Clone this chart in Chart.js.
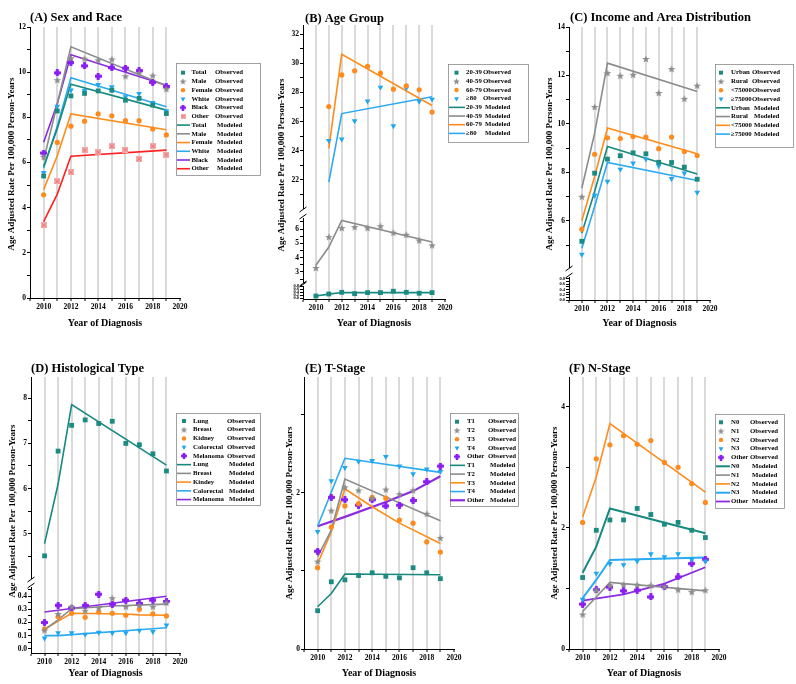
<!DOCTYPE html>
<html><head><meta charset="utf-8">
<script src="https://cdn.jsdelivr.net/npm/chart.js@4.4.1/dist/chart.umd.min.js"></script>
<style>
html,body{margin:0;padding:0;background:#fff;}
#wrap{position:relative;width:796px;height:684px;overflow:hidden;background:#fff;}
canvas{position:absolute;}
</style></head><body><div id="wrap">
<canvas id="cA" style="left:0px;top:0px" width="265" height="330"></canvas>
<canvas id="cB" style="left:265px;top:0px" width="265" height="330"></canvas>
<canvas id="cC" style="left:530px;top:0px" width="266" height="330"></canvas>
<canvas id="cD" style="left:0px;top:330px" width="265" height="354"></canvas>
<canvas id="cE" style="left:265px;top:330px" width="265" height="354"></canvas>
<canvas id="cF" style="left:530px;top:330px" width="266" height="354"></canvas>
</div>
<script>
// ---------------- DATA ----------------
const years = [2010,2011,2012,2013,2014,2015,2016,2017,2018,2019];
const yTitle = 'Age Adjusted Rate Per 100,000 Person-Years';
const xTitle = 'Year of Diagnosis';

// (A) Sex and Race
const aNames = ['Total','Male','Female','White','Black','Other'];
const aTotalObs  = [5.40,8.28,8.95,9.06,9.17,9.20,8.76,8.84,8.54,8.17];
const aMaleObs   = [6.25,9.65,10.62,10.60,10.53,10.57,9.82,9.95,9.85,9.25];
const aFemaleObs = [4.57,6.89,7.61,7.83,8.15,8.07,7.85,7.85,7.48,7.22];
const aWhiteObs  = [5.55,8.48,9.20,9.18,9.45,9.35,8.90,9.05,8.65,8.28];
const aBlackObs  = [6.42,9.97,10.43,10.28,9.82,10.20,10.18,10.07,9.55,9.37];
const aOtherObs  = [3.22,5.16,5.56,6.54,6.45,6.72,6.57,6.15,6.72,6.35];
const aModYears  = [2010,2011,2012,2019];
const aTotalMod  = [5.82,7.50,9.47,8.32];
const aMaleMod   = [6.10,8.60,11.12,9.40];
const aFemaleMod = [4.80,6.30,8.15,7.45];
const aWhiteMod  = [5.75,7.60,9.75,8.47];
const aBlackMod  = [6.90,8.60,10.77,9.42];
const aOtherMod  = [3.38,4.60,6.28,6.55];

// (B) Age Group
const bNames = ['20-39','40-59','60-79','\u226580'];
const bOldYears = [2011,2012,2013,2014,2015,2016,2017,2018,2019];
const b2039Obs = [0.15,0.28,0.39,0.30,0.37,0.37,0.46,0.39,0.33,0.37];
const b4059Obs = [3.28,5.44,6.07,6.14,6.07,6.20,5.74,5.60,5.20,4.86];
const b6079Obs = [27.03,29.20,29.48,29.78,29.32,28.22,28.45,28.18,26.65];
const b80Obs   = [24.70,24.80,26.05,27.40,28.35,25.70,28.30,27.38,27.53];
const bModYears = [2010,2011,2012,2019];
const b2039Mod = [0.15,0.27,0.38,0.37];
const b4059Mod = [3.47,4.74,6.60,5.09];
const bOldModYears = [2011,2012,2019];
const b6079Mod = [24.17,30.62,27.10];
const b80Mod   = [21.85,26.55,27.70];

// (C) Income and Area Distribution
const cNames = ['Urban','Rural','<75000','\u226575000'];
const cUrbanObs = [5.16,7.97,8.55,8.69,8.81,8.77,8.42,8.41,8.22,7.72];
const cRuralObs = [7.00,10.70,12.10,11.99,12.03,12.68,11.28,12.27,11.04,11.58];
const cLowObs   = [5.66,8.75,9.43,9.40,9.48,9.46,8.98,9.46,8.86,8.70];
const cHighObs  = [4.62,7.05,7.63,8.13,8.38,8.55,8.27,7.74,7.97,7.18];
const cModYears = [2010,2011,2012,2019];
const cUrbanMod = [5.49,7.21,9.07,7.94];
const cRuralMod = [7.35,9.62,12.51,11.34];
const cLowMod   = [6.01,7.83,9.83,8.77];
const cHighMod  = [4.87,6.60,8.41,7.67];

// (D) Histological Type
const dObsNames = ['Lung','Breast','Kidney','Colorectal','Melanoma'];
const dModNames = ['Lung','Breast','Kindey','Colorectal','Melanoma'];
const dLungObs   = [4.51,6.83,7.40,7.52,7.44,7.49,7.00,6.97,6.77,6.39];
const dBreastObs = [0.14,0.265,0.32,0.29,0.31,0.385,0.32,0.33,0.32,0.35];
const dKidneyObs = [0.15,0.245,0.27,0.24,0.28,0.27,0.255,0.30,0.265,0.25];
const dColoObs   = [0.08,0.12,0.12,0.11,0.125,0.12,0.12,0.14,0.13,0.18];
const dMelObs    = [0.20,0.33,0.31,0.33,0.415,0.34,0.37,0.345,0.37,0.36];
const dLungModYears = [2010,2011,2012,2019];
const dLungMod      = [4.78,6.10,7.86,6.52];
const dBreastModYears = [2010,2011,2012,2015,2019];
const dBreastMod      = [0.145,0.22,0.305,0.325,0.34];
const dKidneyModYears = [2010,2012,2016,2017,2019];
const dKidneyMod      = [0.15,0.27,0.265,0.258,0.255];
const dColoModYears = [2010,2011,2019];
const dColoMod      = [0.10,0.10,0.16];
const dMelModYears = [2010,2019];
const dMelMod      = [0.28,0.40];

// (E) T-Stage
const eNames = ['T1','T2','T3','T4','Other'];
const eT1Obs = [0.49,0.86,0.885,0.94,0.975,0.93,0.91,1.04,0.975,0.90];
const eT2Obs = [1.12,1.77,2.07,2.03,1.93,2.04,1.98,2.03,1.73,1.42];
const eT3Obs = [1.04,1.56,1.83,1.86,1.94,1.93,1.65,1.61,1.37,1.24];
const eT4Obs = [1.50,2.15,2.32,2.40,2.41,2.46,2.34,2.24,2.30,2.27];
const eOtherObs = [1.25,1.94,1.91,1.84,1.91,1.83,1.84,1.90,2.14,2.34];
const eT1ModYears = [2010,2011,2012,2019];
const eT1Mod = [0.54,0.71,0.96,0.95];
const eT2Mod = [1.18,1.52,2.175,1.64];
const eT3ModYears = [2010,2011,2012,2014,2016,2019];
const eT3Mod = [1.09,1.50,2.05,1.82,1.61,1.35];
const eT4ModYears = [2010,2012,2019];
const eT4Mod = [1.57,2.44,2.26];
const eOtherModYears = [2010,2012,2015,2017,2019];
const eOtherMod = [1.57,1.69,1.88,2.02,2.21];

// (F) N-Stage
const fNames = ['N0','N1','N2','N3','Other'];
const fN0Obs = [1.18,1.96,2.13,2.13,2.32,2.22,2.06,2.09,1.96,1.84];
const fN1Obs = [0.57,0.97,1.05,1.06,1.06,1.05,1.03,0.98,0.94,0.97];
const fN2Obs = [2.09,3.14,3.37,3.52,3.38,3.44,3.08,3.00,2.73,2.42];
const fN3Obs = [0.82,1.25,1.41,1.39,1.45,1.57,1.52,1.57,1.48,1.45];
const fOtherObs = [0.74,0.98,1.02,0.96,0.97,0.86,1.03,1.19,1.41,1.48];
const fModYears = [2010,2011,2012,2019];
const fN0Mod = [1.26,1.69,2.32,1.91];
const fN1ModYears = [2010,2012,2019];
const fN1Mod = [0.62,1.10,0.96];
const fN2Mod = [2.18,2.84,3.72,2.59];
const fN3Mod = [0.84,1.14,1.47,1.51];
const fOtherModYears = [2010,2013,2016,2019];
const fOtherMod = [0.80,0.90,1.08,1.35];

// ---------------- STYLE ----------------
const FONT = "'Liberation Serif','Times New Roman',serif";
Chart.defaults.font.family = FONT;
Chart.defaults.font.weight = 'bold';
Chart.defaults.color = '#000';
Chart.defaults.animation = false;

function mkCanvas(size, draw){ const c=document.createElement('canvas'); c.width=c.height=size; draw(c.getContext('2d'), size); return c; }
function starImg(color,size){ return mkCanvas(size,(g,s)=>{ g.fillStyle=color; g.beginPath(); const r=s/2, ri=r*0.42; for(let k=0;k<10;k++){ const a=-Math.PI/2+k*Math.PI/5; const rr=k%2?ri:r; g.lineTo(r+rr*Math.cos(a), r+0.3+rr*Math.sin(a)); } g.closePath(); g.fill(); }); }
function plusImg(color,size){ return mkCanvas(size,(g,s)=>{ g.fillStyle=color; const r=s/2; g.beginPath(); g.arc(r,r,r*0.72,0,Math.PI*2); g.fill(); g.fillRect(0,r-r*0.4,s,r*0.8); g.fillRect(r-r*0.4,0,r*0.8,s); }); }
function xsqImg(size){ return mkCanvas(size,(g,s)=>{ g.fillStyle='#f5a9a9'; g.fillRect(0,0,s,s); g.strokeStyle='#e57373'; g.lineWidth=0.9; g.beginPath(); g.moveTo(1,1); g.lineTo(s-1,s-1); g.moveTo(s-1,1); g.lineTo(1,s-1); g.stroke(); }); }

const ST = {
  teal:  {c:'#1b8a80', lc:'#17897f', ps:'rect', r:3.4, lps:'rect', lr:2.8},
  gray:  {c:'#8c8c8c', lc:'#8c8c8c', ps:starImg('#8c8c8c',8), r:3.4, lps:starImg('#8c8c8c',7), lr:3},
  orange:{c:'#ff8a1e', lc:'#ff8c1a', ps:'circle', r:2.6, lps:'circle', lr:2.2},
  blue:  {c:'#1ea6ef', lc:'#2aaaf2', ps:'triangle', r:3.3, rot:180, lps:'triangle', lr:2.8},
  purple:{c:'#8a1ef2', lc:'#8a2be2', ps:plusImg('#8a1ef2',7), r:3.4, lps:plusImg('#8a1ef2',6), lr:3},
  pink:  {c:'#f5a9a9', lc:'#ff2020', ps:xsqImg(6), r:3.4, lps:xsqImg(5), lr:3}
};

function obsDS(label, ys, st, axis, xs){
  return {kind:'obs', label, data:(xs||years).map((x,i)=>({x, y:ys[i]})), showLine:false,
    pointStyle:st.ps, pointRadius:st.r, pointHoverRadius:st.r, pointRotation:st.rot||0,
    pointBackgroundColor:st.c, pointBorderColor:st.c, pointBorderWidth:0, yAxisID:axis,
    legendStyle:st.lps, legendRadius:st.lr};
}
function modDS(label, xs, ys, st, axis, bw){
  return {kind:'mod', label, data:xs.map((x,i)=>({x, y:ys[i]})), showLine:true,
    borderColor:st.lc, backgroundColor:st.lc, borderWidth:bw||1.6, pointRadius:0, pointHoverRadius:0, tension:0, yAxisID:axis};
}

function isMajor(v,m){ const q=v/m; return Math.abs(q-Math.round(q))<1e-6; }
function xScale(h, pb){
  return {type:'linear', position:'bottom', min:2009, max:2020,
    afterFit:s=>{ s.height=h; },
    ticks:{stepSize:1, autoSkip:false, maxRotation:0, includeBounds:false, font:{size:7.5}, padding:2,
      callback:v=> isMajor(v,2) ? String(v) : ''},
    grid:{color:c=> (c.tick && c.tick.value>=2010 && c.tick.value<=2019) ? '#dadada' : 'rgba(0,0,0,0)',
      lineWidth:2, drawTicks:true, tickLength:3, tickColor:'#000', tickWidth:1},
    border:{display:true, color:'#000', width:1},
    title:{display:true, text:xTitle, font:{size:10}, padding:{top:0,bottom:pb}}};
}
function yScale(o){
  return {type:'linear', position:'left', stack:'s', stackWeight:o.w||1, min:o.min, max:o.max,
    afterFit:s=>{ s.width=o.width; },
    ticks:{stepSize:o.step, autoSkip:false, includeBounds:false, font:{size:o.fs||7.5}, padding:1,
      callback:v=> isMajor(v,o.major) ? v.toFixed(o.dec||0) : ''},
    grid:{drawOnChartArea:false, drawTicks:true, tickLength:3, tickColor:'#000', tickWidth:1, color:'#000'},
    border:{display:true, color:'#000', width:1}};
}
function gapScale(w, width){
  return {type:'linear', position:'left', stack:'s', stackWeight:w, min:0, max:1,
    afterFit:s=>{ s.width=width; }, ticks:{display:false}, grid:{display:false}, border:{display:false}};
}

function drawBreak(ctx,x,y){ ctx.beginPath(); ctx.moveTo(x-3.5,y+2.5); ctx.lineTo(x+3.5,y-2.5); ctx.stroke(); }

function panelPlugin(cfg){
  return {id:'panel', afterDraw(chart){
    const ctx=chart.ctx; ctx.save();
    ctx.fillStyle='#000'; ctx.textBaseline='middle'; ctx.textAlign='left';
    ctx.font='bold 12.5px '+FONT; ctx.fillText(cfg.title, cfg.tx, cfg.ty);
    ctx.save(); ctx.translate(cfg.yx, cfg.yy); ctx.rotate(-Math.PI/2); ctx.textAlign='center';
    ctx.font='bold 9px '+FONT; ctx.fillText(yTitle,0,0); ctx.restore();
    ctx.strokeStyle='#000'; ctx.lineWidth=1;
    for(const id in chart.scales){ if(id.indexOf('gap')===0){ const s=chart.scales[id]; const x=chart.chartArea.left; drawBreak(ctx,x,s.top+1.5); drawBreak(ctx,x,s.bottom-1.5); } }
    const L=cfg.legend;
    ctx.strokeStyle='#8a8a8a'; ctx.lineWidth=0.8; ctx.strokeRect(L.x+0.5,L.y+0.5,L.w,L.h);
    ctx.font='bold 6.8px '+FONT;
    chart.data.datasets.forEach((ds,i)=>{
      const y=L.y0+i*L.dy;
      if(ds.kind==='obs'){
        ctx.fillStyle=ds.pointBackgroundColor; ctx.strokeStyle=ds.pointBorderColor;
        if(Chart.helpers && Chart.helpers.drawPoint){
          Chart.helpers.drawPoint(ctx,{pointStyle:ds.legendStyle, radius:ds.legendRadius, rotation:ds.pointRotation||0, borderWidth:0}, L.x+L.mx, y);
        } else { ctx.beginPath(); ctx.arc(L.x+L.mx,y,2.5,0,Math.PI*2); ctx.fill(); }
      } else {
        ctx.strokeStyle=ds.borderColor; ctx.lineWidth=ds.borderWidth;
        ctx.beginPath(); ctx.moveTo(L.x+L.l0,y); ctx.lineTo(L.x+L.l1,y); ctx.stroke();
      }
      ctx.fillStyle='#000';
      ctx.fillText(ds.label, L.x+L.nx, y);
      ctx.fillText(ds.kind==='obs'?'Observed':'Modeled', L.x+L.cx+(ds.kind==='obs'?0:2), y);
    });
    ctx.restore();
  }};
}

function make(id, scales, datasets, padding, cfg){
  new Chart(document.getElementById(id), {
    type:'scatter',
    data:{datasets},
    options:{responsive:false, maintainAspectRatio:false, animation:false,
      layout:{padding},
      plugins:{legend:{display:false}, tooltip:{enabled:false}},
      scales},
    plugins:[panelPlugin(cfg)]
  });
}

// ---------- (A) ----------
(function(){
  const ax='yA';
  const ds=[
    obsDS(aNames[0],aTotalObs,ST.teal,ax), obsDS(aNames[1],aMaleObs,ST.gray,ax), obsDS(aNames[2],aFemaleObs,ST.orange,ax),
    obsDS(aNames[3],aWhiteObs,ST.blue,ax), obsDS(aNames[4],aBlackObs,ST.purple,ax), obsDS(aNames[5],aOtherObs,ST.pink,ax),
    modDS(aNames[0],aModYears,aTotalMod,ST.teal,ax), modDS(aNames[1],aModYears,aMaleMod,ST.gray,ax), modDS(aNames[2],aModYears,aFemaleMod,ST.orange,ax),
    modDS(aNames[3],aModYears,aWhiteMod,ST.blue,ax), modDS(aNames[4],aModYears,aBlackMod,ST.purple,ax), modDS(aNames[5],aModYears,aOtherMod,ST.pink,ax)
  ];
  make('cA', {x:xScale(32,1), yA:yScale({min:0,max:12,step:1,major:2,width:30})}, ds,
    {left:0,top:27,right:85,bottom:0},
    {title:'(A) Sex and Race', tx:30, ty:18, yx:12, yy:164,
     legend:{x:176,y:63,w:84,h:112,y0:72.7,dy:8.73,mx:7,nx:15.5,cx:39,l0:1,l1:14}});
})();

// ---------- (B) ----------
(function(){
  const ds=[
    obsDS(bNames[0],b2039Obs,ST.teal,'yBb'), obsDS(bNames[1],b4059Obs,ST.gray,'yBm'),
    obsDS(bNames[2],b6079Obs,ST.orange,'yBt',bOldYears), obsDS(bNames[3],b80Obs,ST.blue,'yBt',bOldYears),
    modDS(bNames[0],bModYears,b2039Mod,ST.teal,'yBb'), modDS(bNames[1],bModYears,b4059Mod,ST.gray,'yBm'),
    modDS(bNames[2],bOldModYears,b6079Mod,ST.orange,'yBt'), modDS(bNames[3],bOldModYears,b80Mod,ST.blue,'yBt')
  ];
  make('cB', {
    x:xScale(31,1),
    yBb:yScale({w:13,min:-0.045,max:0.8,step:0.2,major:0.2,dec:1,fs:4.5,width:38}),
    gapB2:gapScale(4,38),
    yBm:yScale({w:64,min:2.30,max:6.77,step:0.5,major:1,width:38}),
    gapB1:gapScale(10,38),
    yBt:yScale({w:183,min:20.08,max:32.62,step:1,major:2,width:38})
  }, ds, {left:0,top:25,right:85,bottom:0},
    {title:'(B) Age Group', tx:40, ty:19, yx:17, yy:165,
     legend:{x:183,y:64,w:80,h:78,y0:72.7,dy:8.67,mx:8.5,nx:18,cx:35,l0:1,l1:17}});
})();

// ---------- (C) ----------
(function(){
  const ax='yCt';
  const ds=[
    obsDS(cNames[0],cUrbanObs,ST.teal,ax), obsDS(cNames[1],cRuralObs,ST.gray,ax),
    obsDS(cNames[2],cLowObs,ST.orange,ax), obsDS(cNames[3],cHighObs,ST.blue,ax),
    modDS(cNames[0],cModYears,cUrbanMod,ST.teal,ax), modDS(cNames[1],cModYears,cRuralMod,ST.gray,ax),
    modDS(cNames[2],cModYears,cLowMod,ST.orange,ax), modDS(cNames[3],cModYears,cHighMod,ST.blue,ax)
  ];
  make('cC', {
    x:xScale(30,1),
    yCb:yScale({w:23,min:0,max:0.876,step:0.1,major:0.2,dec:1,fs:4.5,width:39}),
    gapC1:gapScale(10,39),
    yCt:yScale({w:240,min:4.1,max:14,step:1,major:2,width:39})
  }, ds, {left:0,top:27,right:86,bottom:0},
    {title:'(C) Income and Area Distribution', tx:40, ty:18, yx:20, yy:164,
     legend:{x:185,y:64,w:78,h:83,y0:72.7,dy:8.77,mx:6,nx:16,cx:37,l0:1,l1:15}});
})();

// ---------- (D) ----------
(function(){
  const ds=[
    obsDS(dObsNames[0],dLungObs,ST.teal,'yDt'), obsDS(dObsNames[1],dBreastObs,ST.gray,'yDb'),
    obsDS(dObsNames[2],dKidneyObs,ST.orange,'yDb'), obsDS(dObsNames[3],dColoObs,ST.blue,'yDb'),
    obsDS(dObsNames[4],dMelObs,ST.purple,'yDb'),
    modDS(dModNames[0],dLungModYears,dLungMod,ST.teal,'yDt'), modDS(dModNames[1],dBreastModYears,dBreastMod,ST.gray,'yDb'),
    modDS(dModNames[2],dKidneyModYears,dKidneyMod,ST.orange,'yDb'), modDS(dModNames[3],dColoModYears,dColoMod,ST.blue,'yDb'),
    modDS(dModNames[4],dMelModYears,dMelMod,ST.purple,'yDb')
  ];
  make('cD', {
    x:xScale(31,5),
    yDb:yScale({w:66,min:-0.032,max:0.47,step:0.05,major:0.1,dec:1,width:31}),
    gapD1:gapScale(9,31),
    yDt:yScale({w:201,min:4.02,max:8.47,step:0.5,major:1,width:31})
  }, ds, {left:0,top:47,right:85,bottom:0},
    {title:'(D) Histological Type', tx:31, ty:39, yx:13, yy:181,
     legend:{x:176,y:83,w:84,h:92,y0:91,dy:8.73,mx:8,nx:17,cx:51,l0:1,l1:15}});
})();

// ---------- (E) ----------
(function(){
  const ax='yE';
  const ds=[
    obsDS(eNames[0],eT1Obs,ST.teal,ax), obsDS(eNames[1],eT2Obs,ST.gray,ax), obsDS(eNames[2],eT3Obs,ST.orange,ax),
    obsDS(eNames[3],eT4Obs,ST.blue,ax), obsDS(eNames[4],eOtherObs,ST.purple,ax),
    modDS(eNames[0],eT1ModYears,eT1Mod,ST.teal,ax), modDS(eNames[1],eT1ModYears,eT2Mod,ST.gray,ax),
    modDS(eNames[2],eT3ModYears,eT3Mod,ST.orange,ax), modDS(eNames[3],eT4ModYears,eT4Mod,ST.blue,ax),
    modDS(eNames[4],eOtherModYears,eOtherMod,ST.purple,ax,2.2)
  ];
  make('cE', {x:xScale(35,5), yE:yScale({min:0,max:3.48,step:1,major:2,width:39})}, ds,
    {left:0,top:47,right:76,bottom:0},
    {title:'(E) T-Stage', tx:40, ty:39, yx:25, yy:183,
     legend:{x:185,y:83,w:68,h:93,y0:91.7,dy:8.73,mx:7,nx:17,cx:38,l0:0,l1:15}});
})();

// ---------- (F) ----------
(function(){
  const ax='yF';
  const ds=[
    obsDS(fNames[0],fN0Obs,ST.teal,ax), obsDS(fNames[1],fN1Obs,ST.gray,ax), obsDS(fNames[2],fN2Obs,ST.orange,ax),
    obsDS(fNames[3],fN3Obs,ST.blue,ax), obsDS(fNames[4],fOtherObs,ST.purple,ax),
    modDS(fNames[0],fModYears,fN0Mod,ST.teal,ax,2), modDS(fNames[1],fN1ModYears,fN1Mod,ST.gray,ax),
    modDS(fNames[2],fModYears,fN2Mod,ST.orange,ax), modDS(fNames[3],fModYears,fN3Mod,ST.blue,ax,2),
    modDS(fNames[4],fOtherModYears,fOtherMod,ST.purple,ax,1.8)
  ];
  make('cF', {x:xScale(35,5), yF:yScale({min:0,max:4.49,step:1,major:2,width:39})}, ds,
    {left:0,top:47,right:77,bottom:0},
    {title:'(F) N-Stage', tx:39, ty:39, yx:25, yy:183,
     legend:{x:185,y:84,w:69,h:94,y0:92.3,dy:8.8,mx:6,nx:16,cx:35,l0:1,l1:15}});
})();
</script>
</body></html>
